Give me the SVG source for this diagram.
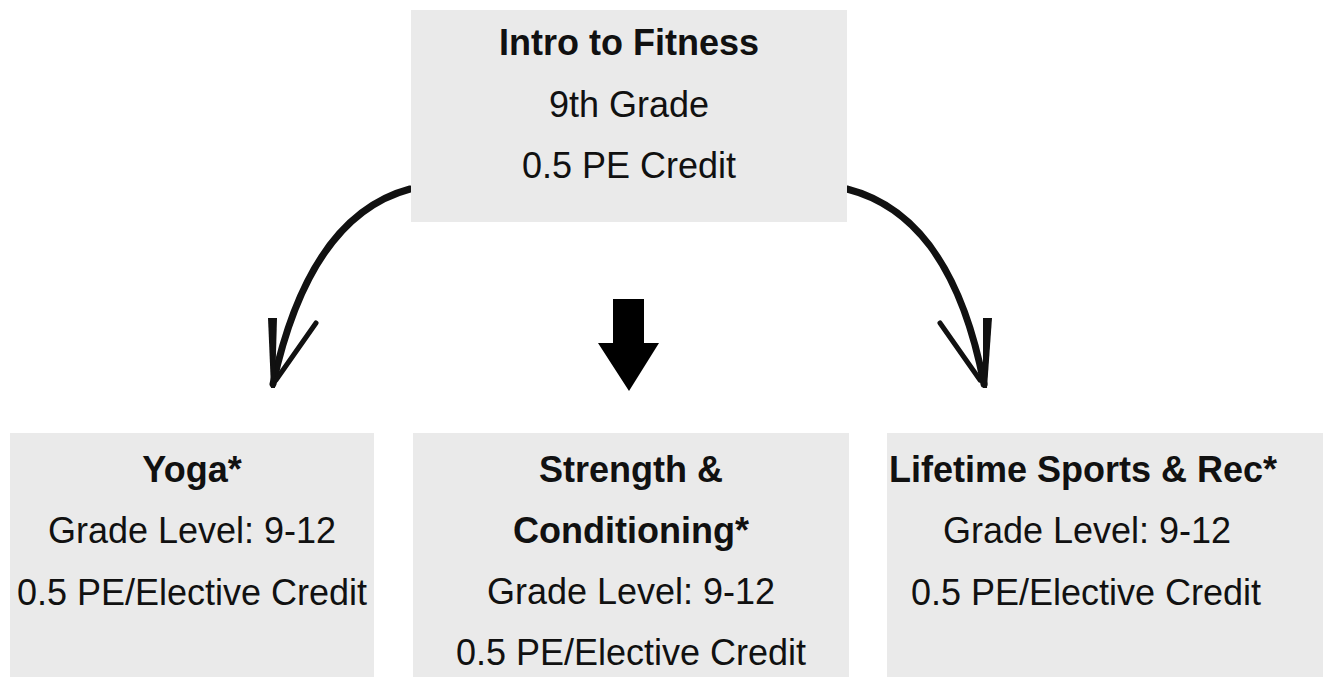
<svg xmlns="http://www.w3.org/2000/svg" width="1325" height="677" viewBox="0 0 1325 677">
<style>
.box{fill:#eaeaea}
.t{font-family:"Liberation Sans",Arial,sans-serif;font-size:36px;fill:#111;text-anchor:middle}
.b{font-weight:bold}
.hand{fill:none;stroke:#111;stroke-width:7;stroke-linecap:round;stroke-linejoin:round}
.barb{fill:none;stroke:#111;stroke-width:5;stroke-linecap:round}
</style>
<rect width="1325" height="677" fill="#fff"/>
<g id="connectors">
<path class="hand" d="M410,189 C350,205 300,260 273,384"/>
<path d="M268,318 L277,318 L275,388 L271,388 Z" fill="#111"/>
<path class="barb" d="M316,323 L276,380"/>
<path class="hand" d="M847,189 C910,205 960,260 984,384"/>
<path d="M983,318 L992,318 L987,388 L983,388 Z" fill="#111"/>
<path class="barb" d="M940,323 L980,380"/>
<path d="M613,299 L644,299 L644,343 L659,343 L629,391 L598,343 L613,343 Z" fill="#000"/>
</g>
<g id="intro">
<rect class="box" x="411" y="10" width="436" height="212"/>
<text class="t b" x="629" y="55">Intro to Fitness</text>
<text class="t" x="629" y="117">9th Grade</text>
<text class="t" x="629" y="178">0.5 PE Credit</text>
</g>
<g id="yoga">
<rect class="box" x="10" y="433" width="364" height="244"/>
<text class="t b" x="192" y="482">Yoga*</text>
<text class="t" x="192" y="543">Grade Level: 9-12</text>
<text class="t" x="192" y="605">0.5 PE/Elective Credit</text>
</g>
<g id="strength">
<rect class="box" x="413" y="433" width="436" height="244"/>
<text class="t b" x="631" y="482">Strength &amp;</text>
<text class="t b" x="631" y="543">Conditioning*</text>
<text class="t" x="631" y="604">Grade Level: 9-12</text>
<text class="t" x="631" y="665">0.5 PE/Elective Credit</text>
</g>
<g id="lifetime">
<rect class="box" x="887" y="433" width="436" height="244"/>
<text class="t b" x="1083" y="482">Lifetime Sports &amp; Rec*</text>
<text class="t" x="1087" y="543">Grade Level: 9-12</text>
<text class="t" x="1086" y="605">0.5 PE/Elective Credit</text>
</g>
</svg>
